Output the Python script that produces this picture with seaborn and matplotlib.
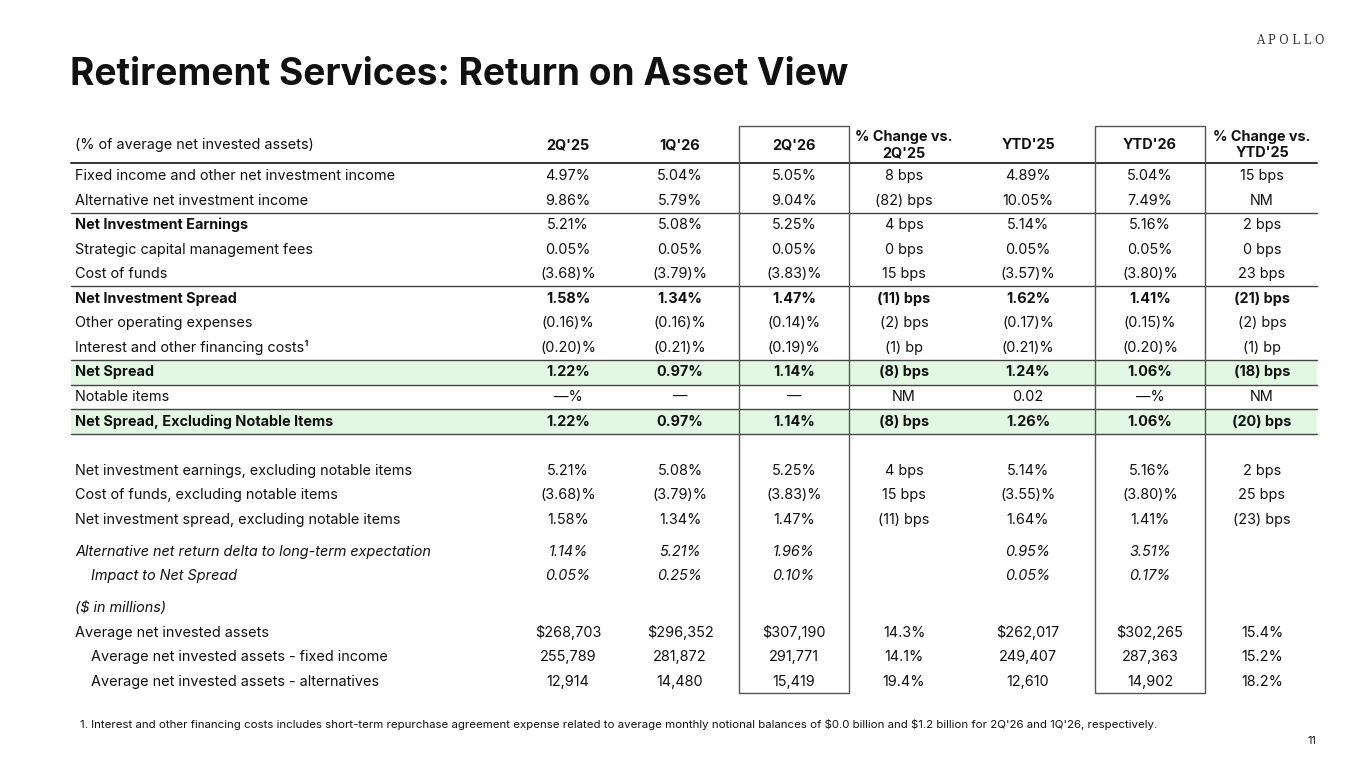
import matplotlib
matplotlib.use('Agg')
import matplotlib.pyplot as plt
from matplotlib.patches import Rectangle
import seaborn as sns

# data
row_labels = [
    'Fixed income and other net investment income',
    'Alternative net investment income',
    'Net Investment Earnings',
    'Strategic capital management fees',
    'Cost of funds',
    'Net Investment Spread',
    'Other operating expenses',
    'Interest and other financing costs\u00b9',
    'Net Spread',
    'Notable items',
    'Net Spread, Excluding Notable Items',
    'Net investment earnings, excluding notable items',
    'Cost of funds, excluding notable items',
    'Net investment spread, excluding notable items',
    'Alternative net return delta to long-term expectation',
    'Impact to Net Spread',
    '($ in millions)',
    'Average net invested assets',
    'Average net invested assets - fixed income',
    'Average net invested assets - alternatives',
]
col_headers = ["2Q'25", "1Q'26", "2Q'26", "% Change vs.\n2Q'25", "YTD'25", "YTD'26", "% Change vs.\nYTD'25"]
q2_25 = ['4.97%', '9.86%', '5.21%', '0.05%', '(3.68)%', '1.58%', '(0.16)%', '(0.20)%', '1.22%', '\u2014%', '1.22%',
         '5.21%', '(3.68)%', '1.58%', '1.14%', '0.05%', '', '$268,703', '255,789', '12,914']
q1_26 = ['5.04%', '5.79%', '5.08%', '0.05%', '(3.79)%', '1.34%', '(0.16)%', '(0.21)%', '0.97%', '\u2014', '0.97%',
         '5.08%', '(3.79)%', '1.34%', '5.21%', '0.25%', '', '$296,352', '281,872', '14,480']
q2_26 = ['5.05%', '9.04%', '5.25%', '0.05%', '(3.83)%', '1.47%', '(0.14)%', '(0.19)%', '1.14%', '\u2014', '1.14%',
         '5.25%', '(3.83)%', '1.47%', '1.96%', '0.10%', '', '$307,190', '291,771', '15,419']
chg_q = ['8 bps', '(82) bps', '4 bps', '0 bps', '15 bps', '(11) bps', '(2) bps', '(1) bp', '(8) bps', 'NM', '(8) bps',
         '4 bps', '15 bps', '(11) bps', '', '', '', '14.3%', '14.1%', '19.4%']
ytd_25 = ['4.89%', '10.05%', '5.14%', '0.05%', '(3.57)%', '1.62%', '(0.17)%', '(0.21)%', '1.24%', '0.02', '1.26%',
          '5.14%', '(3.55)%', '1.64%', '0.95%', '0.05%', '', '$262,017', '249,407', '12,610']
ytd_26 = ['5.04%', '7.49%', '5.16%', '0.05%', '(3.80)%', '1.41%', '(0.15)%', '(0.20)%', '1.06%', '\u2014%', '1.06%',
          '5.16%', '(3.80)%', '1.41%', '3.51%', '0.17%', '', '$302,265', '287,363', '14,902']
chg_ytd = ['15 bps', 'NM', '2 bps', '0 bps', '23 bps', '(21) bps', '(2) bps', '(1) bp', '(18) bps', 'NM', '(20) bps',
           '2 bps', '25 bps', '(23) bps', '', '', '', '15.4%', '15.2%', '18.2%']
columns = [q2_25, q1_26, q2_26, chg_q, ytd_25, ytd_26, chg_ytd]

bold_labels = {2, 5, 8, 10}
bold_values = {5, 8, 10}
italic_rows = {14, 15, 16}
indent_rows = {15, 18, 19}
green_rows = {8, 10}
lines_after = [1, 4, 7, 8, 9, 10]
boxed_cols = [2, 5]

sns.set_theme(style='white')
plt.rcParams['font.family'] = ['Inter', 'DejaVu Sans']
plt.rcParams['text.parse_math'] = False

fig = plt.figure(figsize=(13.65, 7.68), dpi=100)
ax = fig.add_axes([0, 0, 1, 1])
ax.set_xlim(0, 1365)
ax.set_ylim(768, 0)
ax.axis('off')

# layout
col_x = [568, 680, 794, 904, 1028, 1150, 1262]
left, right = 71, 1317
step = 24.55
extra = {11: 24.5, 14: 7.5, 16: 7.5}
row_y = []
y = 176
for i in range(len(row_labels)):
    y += extra.get(i, 0)
    row_y.append(y)
    y += step
half = step / 2
ink = '#111111'
fs = 10.4

ax.text(1290, 40, 'A P O L L O', ha='center', va='center', fontsize=8.3, family='DejaVu Serif', color='#333333')
ax.text(70, 75, 'Retirement Services: Return on Asset View', ha='left', va='center',
        fontsize=26.7, fontweight='bold', color='#111111')

# green highlight
for i in green_rows:
    ax.add_patch(Rectangle((left, row_y[i] - half), right - left, step, color='#e2f8e2', lw=0, zorder=0))

# header
hy = 145
ax.text(75, hy, '(% of average net invested assets)', ha='left', va='center', fontsize=fs, color=ink)
for cx, h in zip(col_x, col_headers):
    ax.text(cx, hy, h, ha='center', va='center', fontsize=fs, fontweight='bold', color=ink, linespacing=1.2)
ax.plot([left, right], [163, 163], color='#333333', lw=1.4)

for i in lines_after:
    yy = row_y[i] + half
    ax.plot([left, right], [yy, yy], color='#444444', lw=1.0)

# boxes around current period columns
box_half = 55
for c in boxed_cols:
    ax.add_patch(Rectangle((col_x[c] - box_half, 126), 2 * box_half, 693 - 126,
                           fill=False, ec='#555555', lw=1.0, zorder=3))

# rows
for i, lab in enumerate(row_labels):
    style = 'italic' if i in italic_rows else 'normal'
    x0 = 91 if i in indent_rows else 75
    ax.text(x0, row_y[i], lab, ha='left', va='center', fontsize=fs,
            fontweight='bold' if i in bold_labels else 'normal', fontstyle=style, color=ink)
    for cx, col in zip(col_x, columns):
        ax.text(cx, row_y[i], col[i], ha='center', va='center', fontsize=fs,
                fontweight='bold' if i in bold_values else 'normal', fontstyle=style, color=ink)

ax.text(80, 725, '1. Interest and other financing costs includes short-term repurchase agreement expense related to '
        'average monthly notional balances of $0.0 billion and $1.2 billion for 2Q\'26 and 1Q\'26, respectively.',
        ha='left', va='center', fontsize=8.25, color=ink)
ax.text(1316, 741, '11', ha='right', va='center', fontsize=7.8, color=ink)

fig.savefig('out.png', dpi=100)
